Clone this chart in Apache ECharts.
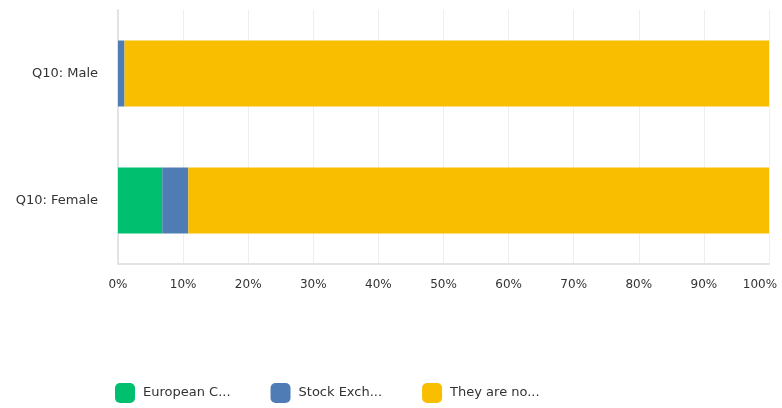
<!DOCTYPE html>
<html>
<head>
<meta charset="utf-8">
<script src="https://cdn.jsdelivr.net/npm/echarts@6/dist/echarts.min.js"></script>
<style>
  html, body { margin: 0; padding: 0; background: #fff; }
  #chart { width: 782px; height: 408px; }
</style>
</head>
<body>
<div id="chart"></div>
<script>
// Survey answers, share of respondents per group (percent)
const categories = ['Q10: Female', 'Q10: Male'];
const seriesNames = ['European C...', 'Stock Exch...', 'They are no...'];
const europeanC = [6.8, 0];
const stockExch = [4.0, 1.0];
const theyAreNo = [89.2, 99.0];
const tickLabels = ['0%', '10%', '20%', '30%', '40%', '50%', '60%', '70%', '80%', '90%', '100%'];

const colors = ['#00bf6f', '#507cb6', '#f9be00'];
const font = '"DejaVu Sans", Verdana, sans-serif';

const chart = echarts.init(document.getElementById('chart'));
const values = [europeanC, stockExch, theyAreNo];

chart.setOption({
  animation: false,
  color: colors,
  textStyle: { fontFamily: font },
  grid: { left: 118, right: 13, top: 10, bottom: 144, containLabel: false, outerBoundsMode: 'none' },
  xAxis: {
    type: 'value',
    min: 0,
    max: 100,
    interval: 10,
    axisLine: { show: true, lineStyle: { color: '#e3e3e3', width: 2 } },
    axisTick: { show: false },
    splitLine: { show: true, lineStyle: { color: '#eeeeee', width: 1 } },
    axisLabel: {
      color: '#333',
      fontSize: 12,
      margin: 15,
      // keep the last label inside the canvas
      formatter: (v) => {
        const t = tickLabels[Math.round(v / 10)];
        return v === 100 ? '{last|' + t + '}' : t;
      },
      rich: { last: { color: '#333', fontSize: 12, padding: [0, 18, 0, 0] } }
    }
  },
  yAxis: {
    type: 'category',
    data: categories,
    axisLine: { show: true, lineStyle: { color: '#e3e3e3', width: 2 } },
    axisTick: { show: false },
    axisLabel: { color: '#333', fontSize: 13, margin: 20, padding: [5, 0, 0, 0] }
  },
  legend: {
    top: 378,
    left: 110,
    itemWidth: 20,
    itemHeight: 20,
    itemGap: 40,
    icon: 'roundRect',
    textStyle: { color: '#333', fontSize: 13, fontFamily: font, padding: [0, 0, 0, 3] },
    data: seriesNames
  },
  series: seriesNames.map((name, i) => ({
    name,
    type: 'bar',
    stack: 'total',
    barWidth: 66,
    data: values[i],
    itemStyle: { color: colors[i] }
  }))
});
</script>
</body>
</html>
